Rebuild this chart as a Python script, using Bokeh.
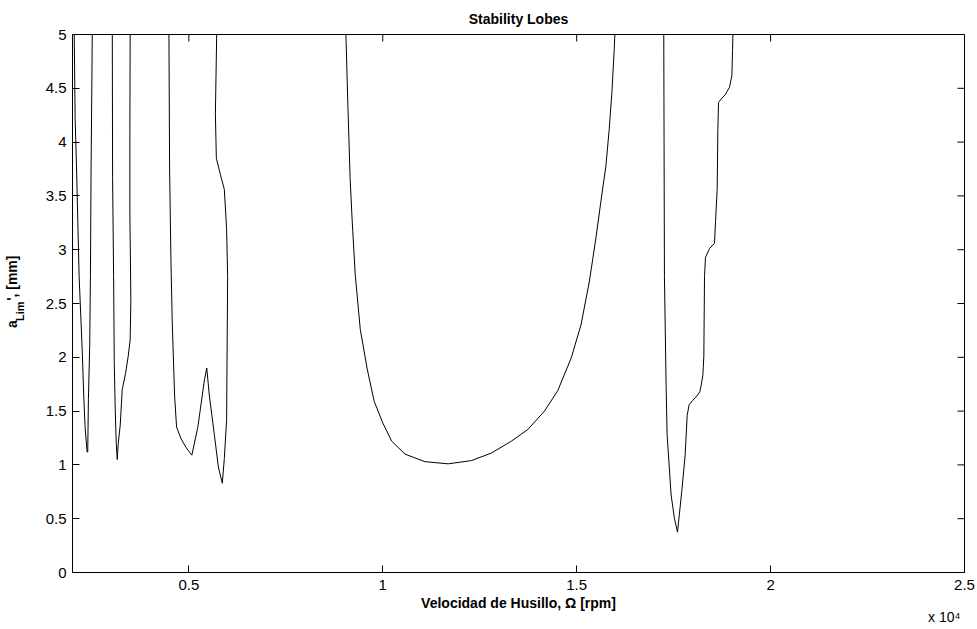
from bokeh.plotting import figure
from bokeh.models import FixedTicker, LinearAxis, Range1d, Title
from bokeh.embed import file_html
from bokeh.resources import INLINE

# ---- data ----
x_ticks = [5000, 10000, 15000, 20000, 25000]
x_tick_labels = ["0.5", "1", "1.5", "2", "2.5"]
y_ticks = [0, 0.5, 1, 1.5, 2, 2.5, 3, 3.5, 4, 4.5, 5]
y_tick_labels = ["0", "0.5", "1", "1.5", "2", "2.5", "3", "3.5", "4", "4.5", "5"]

lobe1_rpm = [2045, 2068, 2103, 2137, 2171, 2222, 2256, 2290, 2325, 2376, 2393, 2410, 2444, 2462, 2479, 2510]
lobe1_a = [5.0, 4.22, 3.78, 3.26, 2.75, 2.31, 2.01, 1.64, 1.35, 1.12, 1.12, 1.61, 2.12, 2.75, 3.74, 5.0]

lobe2_rpm = [3026, 3034, 3060, 3077, 3103, 3128, 3154, 3179, 3231, 3282, 3368, 3436, 3487, 3504, 3496, 3479, 3479, 3487]
lobe2_a = [5.0, 3.67, 2.75, 1.94, 1.50, 1.20, 1.05, 1.20, 1.37, 1.70, 1.85, 2.01, 2.16, 2.53, 2.82, 3.34, 4.07, 5.0]

lobe3_rpm = [4487, 4504, 4538, 4573, 4633, 4684, 4803, 4932, 5077, 5231, 5402, 5462, 5530, 5658,
             5761, 5863, 5915, 5974, 6000, 5974, 5915, 5812, 5709, 5684, 5718]
lobe3_a = [5.0, 3.74, 2.90, 2.31, 1.64, 1.35, 1.24, 1.16, 1.09, 1.35, 1.79, 1.90, 1.64, 1.28,
           0.98, 0.83, 1.06, 1.42, 2.75, 3.19, 3.56, 3.70, 3.85, 4.26, 5.0]

lobe4_rpm = [9050, 9100, 9160, 9210, 9290, 9420, 9600, 9780, 10000, 10231, 10574, 11087, 11687,
             12286, 12800, 13314, 13742, 14170, 14512, 14855, 15111, 15325, 15497, 15625, 15754,
             15839, 15908, 15968, 15985]
lobe4_a = [5.0, 4.35, 3.65, 3.28, 2.77, 2.26, 1.89, 1.59, 1.39, 1.22, 1.10, 1.03, 1.01,
           1.04, 1.11, 1.22, 1.33, 1.50, 1.69, 1.99, 2.30, 2.70, 3.11, 3.45, 3.78,
           4.12, 4.46, 4.86, 5.0]

lobe5_rpm = [17246, 17263, 17306, 17332, 17435, 17522, 17600, 17711, 17797, 17849, 17900, 17995,
             18098, 18176, 18210, 18253, 18279, 18296, 18322, 18425, 18554, 18580, 18623, 18640,
             18658, 18726, 18830, 18941, 19002, 19019, 19028]
lobe5_a = [5.0, 2.75, 1.74, 1.28, 0.72, 0.50, 0.375, 0.76, 1.09, 1.46, 1.56, 1.60,
           1.64, 1.68, 1.74, 1.83, 2.01, 2.75, 2.93, 3.01, 3.06, 3.26, 3.56, 4.11,
           4.37, 4.40, 4.44, 4.51, 4.62, 4.85, 5.0]

title_text = "Stability Lobes"
xlabel_text = "Velocidad de Husillo, \u03a9 [rpm]"
ylabel_main = "a"
ylabel_sub = "Lim"
ylabel_rest = "', [mm]"
exponent_text = "x 10\u2074"

# ---- layout ----
X0, X1 = 2000, 25000
Y0, Y1 = 0, 5
FW, FH = 892, 538
FONT = "Liberation Sans"
TICK = 7
NB = "\u00a0"

p = figure(frame_width=FW, frame_height=FH,
           x_range=Range1d(X0, X1), y_range=Range1d(Y0, Y1),
           output_backend="svg", toolbar_location=None,
           min_border_left=71, min_border_top=34, min_border_right=12, min_border_bottom=56,
           background_fill_color="white", border_fill_color="white",
           outline_line_color="black", outline_line_width=1)
p.grid.visible = False

p.title.text = title_text
p.title.align = "center"
p.title.text_font = FONT
p.title.text_font_style = "bold"
p.title.text_font_size = "14px"
p.title.text_color = "black"
p.title.standoff = 15

def style_axis(ax, ticks, labels, standoff):
    ax.ticker = FixedTicker(ticks=ticks)
    ax.major_label_overrides = {t: l for t, l in zip(ticks, labels)}
    ax.major_tick_in = TICK
    ax.major_tick_out = 0
    ax.minor_tick_in = 0
    ax.minor_tick_out = 0
    ax.axis_line_color = "black"
    ax.major_tick_line_color = "black"
    ax.major_label_text_font = FONT
    ax.major_label_text_color = "black"
    ax.major_label_text_font_size = "15px"
    ax.major_label_standoff = standoff

style_axis(p.xaxis[0], x_ticks, x_tick_labels, 7)
style_axis(p.yaxis[0], y_ticks, y_tick_labels, 6)

xa = p.xaxis[0]
xa.axis_label = xlabel_text
xa.axis_label_text_font = FONT
xa.axis_label_text_font_style = "bold"
xa.axis_label_text_font_size = "14px"
xa.axis_label_text_color = "black"
xa.axis_label_standoff = 2

# y label "a_Lim', [mm]": the subscript sits on the inner axis label,
# the main letters on an outer, tick-less axis label.
ya = p.yaxis[0]
ya.axis_label = ylabel_sub + NB * 5
ya.axis_label_text_font = FONT
ya.axis_label_text_font_style = "bold"
ya.axis_label_text_font_size = "11px"
ya.axis_label_text_color = "black"
ya.axis_label_standoff = 17

outer = LinearAxis(ticker=FixedTicker(ticks=[]), axis_line_color=None,
                   major_tick_in=0, major_tick_out=0, minor_tick_in=0, minor_tick_out=0,
                   major_label_standoff=0,
                   axis_label=NB * 6 + ylabel_main + NB * 5 + ylabel_rest,
                   axis_label_text_font=FONT, axis_label_text_font_style="bold",
                   axis_label_text_font_size="14px", axis_label_text_color="black",
                   axis_label_standoff=-9)
p.add_layout(outer, "left")

p.add_layout(Title(text=exponent_text, align="right", text_font=FONT,
                   text_font_style="normal", text_font_size="14px",
                   text_color="black", offset=4, standoff=-13), "below")

# inward ticks on the top and right sides of the box (MATLAB "box on")
n, m = len(x_ticks), len(y_ticks)
p.segment(x0=x_ticks, y0=[Y1] * n, x1=x_ticks, y1=[Y1 - TICK * (Y1 - Y0) / FH] * n,
          line_color="black", line_width=1)
p.segment(x0=[X1] * m, y0=y_ticks, x1=[X1 - TICK * (X1 - X0) / FW] * m, y1=y_ticks,
          line_color="black", line_width=1)

for xs, ys in [(lobe1_rpm, lobe1_a), (lobe2_rpm, lobe2_a), (lobe3_rpm, lobe3_a),
               (lobe4_rpm, lobe4_a), (lobe5_rpm, lobe5_a)]:
    p.line(xs, ys, line_color="black", line_width=1)

open("out.html", "w").write(file_html(p, INLINE))
